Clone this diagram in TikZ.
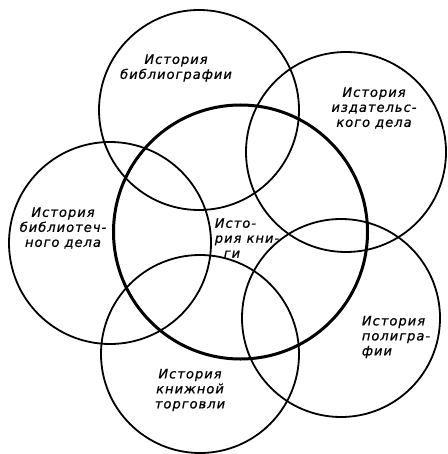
\documentclass[tikz,border=0pt]{standalone}
\usepackage{fontspec}
\newfontfamily\gostfont[LetterSpace=8.0,FakeBold=0.8]{DejaVu Sans}
\begin{document}
\begin{tikzpicture}[x=1pt,y=-1pt,
  ring/.style={draw,line width=1.8pt},
  core/.style={draw,line width=3pt},
  lbl/.style={font=\gostfont\itshape\fontsize{13}{15}\selectfont,align=center,inner sep=0pt}]
  \useasboundingbox (0,0) rectangle (447,454);
  % circles
  \draw[ring] (199,110) circle[radius=100];
  \draw[ring] (346,152) circle[radius=100];
  \draw[ring] (110,243) circle[radius=101];
  \draw[ring] (200,354) circle[radius=99];
  \draw[ring] (341,318) circle[radius=99];
  \draw[core] (240.5,232) circle[radius=127];
  % labels
  \node[lbl] (bibl) at (176,68){История\\библиографии};
  \node[lbl] (izd) at (374,108){История\\издательс-\\кого дела};
  \node[lbl] (bibt) at (63,228){История\\библиотеч-\\ного дела};
  \node[lbl,align=left] (kn) at (247,238){Исто-\\рия кни-\\\hspace*{9pt}ги};
  \node[lbl,align=left] (pol) at (396,337){История\\полигра-\\фии};
  \node[lbl] (torg) at (190,390){История\\книжной\\торговли};
\end{tikzpicture}
\end{document}
